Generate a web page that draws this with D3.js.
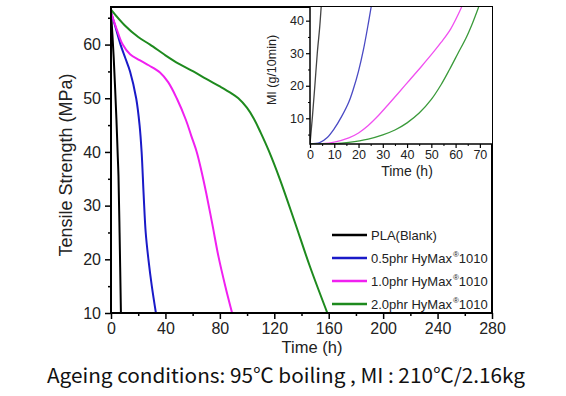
<!DOCTYPE html>
<html>
<head>
<meta charset="utf-8">
<script src="https://cdn.jsdelivr.net/npm/d3@7"></script>
<style>
  body { margin: 0; background: #fff; }
  svg { display: block; font-family: "Liberation Sans", Arial, sans-serif; }
</style>
</head>
<body>
<svg id="chart" width="566" height="396"></svg>
<script>
// main plot: tensile strength vs ageing time  [time (h), strength (MPa)]
var blankTS = [[0, 66], [1, 62], [2, 57.5], [3, 52], [4, 46], [5, 39], [5.5, 35.5], [6.3, 25], [7.3, 10]];
var half_TS = [[0, 66], [3, 63.5], [7, 60], [10.5, 57.5], [14, 55], [18.5, 50], [21, 45], [22.5, 40],
               [24, 32], [25.5, 25], [27.5, 20], [30, 15], [33, 10]];
var one_TS = [[0, 66], [4, 63], [8.6, 60], [14, 58.2], [21, 57.1], [28, 56.1], [36, 54.8], [42, 53],
              [48.3, 50], [55, 46], [59, 43], [63, 40], [66.5, 36.4], [70, 32.3], [74.5, 26.5],
              [79, 20.5], [84, 15], [89, 10]];
var two_TS = [[0, 66.5], [10, 63.6], [20, 61.4], [28.7, 60], [40, 58], [50, 56.4], [60.5, 55], [70, 53.6],
              [80, 52.2], [88, 51], [93.6, 50], [100, 48.2], [105, 46.2], [110, 43.6], [116, 40.2],
              [124, 35], [135, 27], [146, 18.8], [159, 10]];

// inset: melt index vs ageing time  [time (h), MI (g/10min)]
var blankMI = [[0, 2.1], [1, 10.5], [2, 20], [3, 30], [4, 38], [4.6, 44.2]];
var half_MI = [[0, 2.1], [4, 2.5], [7, 4], [10, 6.8], [13, 10.5], [16, 15], [18, 19.3], [20, 24.5],
               [22, 31], [24, 39], [25.2, 44.2]];
var one_MI = [[0, 2.1], [5, 2.2], [10, 2.7], [16, 4], [20, 5.5], [24, 7.8], [28, 10.7], [32, 14],
              [36, 17.4], [41, 21.7], [46, 26], [50.5, 30], [54, 33.3], [58, 37.5], [62.5, 44.2]];
var two_MI = [[0, 2.1], [10, 2.2], [16, 2.6], [24, 3.6], [30, 4.9], [35, 6.4], [40, 8.6], [45, 11.6],
              [50, 15.8], [54, 20.3], [57.5, 25], [61, 30], [64.5, 35], [67, 39.3], [69.5, 44.2]];

var seriesNames = ["PLA(Blank)", "0.5phr HyMax", "1.0phr HyMax", "2.0phr HyMax"];
var seriesColors = ["#000000", "#1a1ac8", "#f020f0", "#1e8a1e"];
var insetColors = ["#444444", "#4a4ac4", "#f050f0", "#3a9a3a"];

var xTicks = [0, 40, 80, 120, 160, 200, 240, 280];
var yTicks = [10, 20, 30, 40, 50, 60];
var insetXTicks = [0, 10, 20, 30, 40, 50, 60, 70];
var insetYTicks = [10, 20, 30, 40];

var caption = "Ageing conditions: 95\u2103 boiling , MI : 210\u2103/2.16kg";

var svg = d3.select("#chart");
svg.append("rect").attr("width", 566).attr("height", 396).attr("fill", "#fff");

var M = {left: 111, right: 492, top: 7, bottom: 313};
var xScale = d3.scaleLinear().domain([0, 280]).range([M.left, M.right]);
var yScale = d3.scaleLinear().domain([10, 67]).range([M.bottom, M.top]);

svg.append("clipPath").attr("id", "mainClip")
  .append("rect").attr("x", M.left).attr("y", M.top)
  .attr("width", M.right - M.left).attr("height", M.bottom - M.top);

var lineMain = d3.line().curve(d3.curveCatmullRom.alpha(0.5))
  .x(function(d) { return xScale(d[0]); })
  .y(function(d) { return yScale(d[1]); });

var mainData = [blankTS, half_TS, one_TS, two_TS];
svg.append("g").attr("clip-path", "url(#mainClip)")
  .selectAll("path").data(mainData).enter().append("path")
  .attr("d", lineMain)
  .attr("fill", "none")
  .attr("stroke", function(d, i) { return seriesColors[i]; })
  .attr("stroke-width", 2);

// minor ticks
svg.append("g")
  .attr("transform", "translate(0," + M.bottom + ")")
  .call(d3.axisBottom(xScale).tickValues(d3.range(20, 280, 40)).tickSize(3).tickFormat(""))
  .call(function(g) { g.select(".domain").remove(); g.selectAll("line").attr("stroke-width", 1.5); });
svg.append("g")
  .attr("transform", "translate(" + M.left + ",0)")
  .call(d3.axisLeft(yScale).tickValues(d3.range(15, 67, 10)).tickSize(3).tickFormat(""))
  .call(function(g) { g.select(".domain").remove(); g.selectAll("line").attr("stroke-width", 1.5); });

var xAxis = svg.append("g")
  .attr("transform", "translate(0," + M.bottom + ")")
  .call(d3.axisBottom(xScale).tickValues(xTicks).tickSize(6).tickPadding(4));
var yAxis = svg.append("g")
  .attr("transform", "translate(" + M.left + ",0)")
  .call(d3.axisLeft(yScale).tickValues(yTicks).tickSize(6).tickPadding(4));
[xAxis, yAxis].forEach(function(g) {
  g.select(".domain").remove();
  g.selectAll("line").attr("stroke-width", 1.5);
  g.selectAll("text").attr("font-size", 16).attr("fill", "#222")
    .attr("font-family", "Liberation Sans, Arial, sans-serif");
});

// frame
svg.append("rect")
  .attr("x", M.left).attr("y", M.top)
  .attr("width", M.right - M.left).attr("height", M.bottom - M.top)
  .attr("fill", "none").attr("stroke", "#000").attr("stroke-width", 2);

svg.append("text")
  .attr("x", 312).attr("y", 353)
  .attr("text-anchor", "middle").attr("font-size", 16.5).attr("fill", "#222")
  .text("Time (h)");
svg.append("text")
  .attr("transform", "translate(72,165) rotate(-90)")
  .attr("text-anchor", "middle").attr("font-size", 18).attr("fill", "#222")
  .text("Tensile Strength (MPa)");

// legend
var legend = svg.append("g");
seriesNames.forEach(function(name, i) {
  var ly = 235 + i * 23;
  legend.append("line")
    .attr("x1", 332).attr("x2", 367).attr("y1", ly).attr("y2", ly)
    .attr("stroke", seriesColors[i]).attr("stroke-width", 2.5);
  var t = legend.append("text")
    .attr("x", 371).attr("y", ly + 5)
    .attr("font-size", 13).attr("fill", "#222")
    .text(name);
  if (i > 0) {
    t.append("tspan").attr("dx", 1).attr("dy", -6).attr("font-size", 8).text("\u00ae");
    t.append("tspan").attr("dy", 6).text("1010");
  }
});

// inset
var I = {left: 310, right: 492, top: 7, bottom: 144};
var ixScale = d3.scaleLinear().domain([0, 75]).range([I.left, I.right]);
var iyScale = d3.scaleLinear().domain([2.1, 44.2]).range([I.bottom, I.top]);

svg.append("rect")
  .attr("x", I.left).attr("y", I.top)
  .attr("width", I.right - I.left).attr("height", I.bottom - I.top)
  .attr("fill", "#fff");

svg.append("clipPath").attr("id", "insetClip")
  .append("rect").attr("x", I.left).attr("y", I.top)
  .attr("width", I.right - I.left).attr("height", I.bottom - I.top);

var lineInset = d3.line().curve(d3.curveCatmullRom.alpha(0.5))
  .x(function(d) { return ixScale(d[0]); })
  .y(function(d) { return iyScale(d[1]); });

svg.append("g").attr("clip-path", "url(#insetClip)")
  .selectAll("path").data([blankMI, half_MI, one_MI, two_MI]).enter().append("path")
  .attr("d", lineInset)
  .attr("fill", "none")
  .attr("stroke", function(d, i) { return insetColors[i]; })
  .attr("stroke-width", 1.3);

svg.append("g")
  .attr("transform", "translate(0," + I.bottom + ")")
  .call(d3.axisBottom(ixScale).tickValues(d3.range(5, 75, 10)).tickSize(2).tickFormat(""))
  .call(function(g) { g.select(".domain").remove(); });
svg.append("g")
  .attr("transform", "translate(" + I.left + ",0)")
  .call(d3.axisLeft(iyScale).tickValues([5, 15, 25, 35]).tickSize(2).tickFormat(""))
  .call(function(g) { g.select(".domain").remove(); });

var ixAxis = svg.append("g")
  .attr("transform", "translate(0," + I.bottom + ")")
  .call(d3.axisBottom(ixScale).tickValues(insetXTicks).tickSize(4).tickPadding(2));
var iyAxis = svg.append("g")
  .attr("transform", "translate(" + I.left + ",0)")
  .call(d3.axisLeft(iyScale).tickValues(insetYTicks).tickSize(4).tickPadding(2));
[ixAxis, iyAxis].forEach(function(g) {
  g.select(".domain").remove();
  g.selectAll("line").attr("stroke-width", 1.2);
  g.selectAll("text").attr("font-size", 12.5).attr("fill", "#222")
    .attr("font-family", "Liberation Sans, Arial, sans-serif");
});

svg.append("path")
  .attr("d", "M" + I.left + "," + I.top + "V" + I.bottom + "H" + I.right)
  .attr("fill", "none").attr("stroke", "#000").attr("stroke-width", 1.5);

svg.append("text")
  .attr("x", 407).attr("y", 176)
  .attr("text-anchor", "middle").attr("font-size", 14).attr("fill", "#222")
  .text("Time (h)");
svg.append("text")
  .attr("transform", "translate(276,70) rotate(-90)")
  .attr("text-anchor", "middle").attr("font-size", 12.5).attr("fill", "#222")
  .text("MI (g/10min)");

// caption
svg.append("text")
  .attr("x", 47).attr("y", 383)
  .attr("font-family", "Noto Sans CJK SC, Noto Sans, sans-serif")
  .attr("font-size", 20).attr("fill", "#111")
  .attr("textLength", 478).attr("lengthAdjust", "spacingAndGlyphs")
  .text(caption);
</script>
</body>
</html>
